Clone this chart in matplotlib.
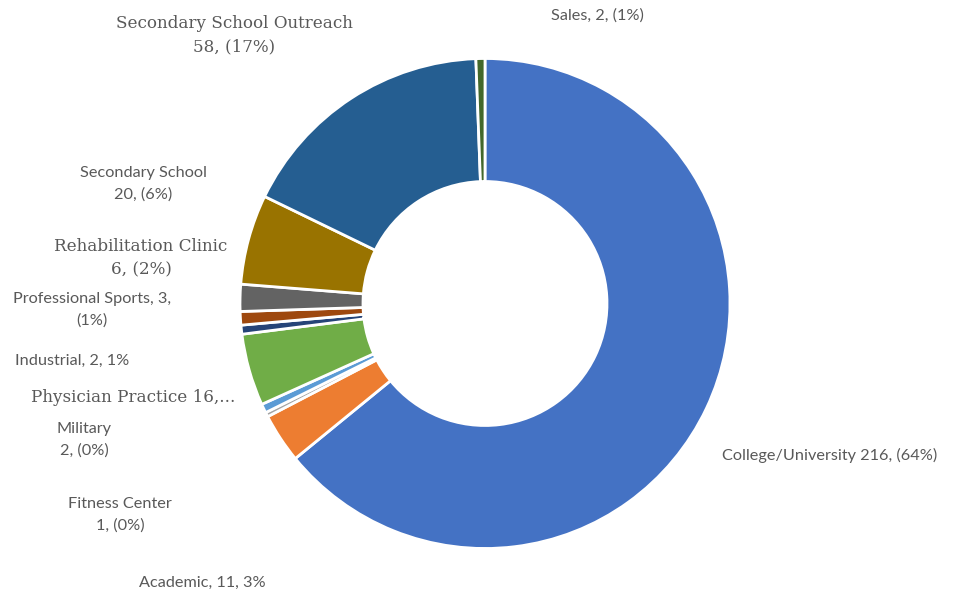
import matplotlib
matplotlib.use("Agg")
import matplotlib.pyplot as plt

# slices, clockwise from 12 o'clock
names = ["College/University", "Academic", "Fitness Center", "Military",
         "Physician Practice", "Industrial", "Professional Sports",
         "Rehabilitation Clinic", "Secondary School",
         "Secondary School Outreach", "Sales"]
counts = [216, 11, 1, 2, 16, 2, 3, 6, 20, 58, 2]
colors = ["#4472C4", "#ED7D31", "#A5A5A5", "#5B9BD5", "#70AD47", "#264478",
          "#9E480E", "#636363", "#997300", "#255E91", "#43682B"]

label_texts = [
    "College/University 216, (64%)",
    "Academic, 11, 3%",
    "Fitness Center\n1, (0%)",
    "Military\n2, (0%)",
    "Physician Practice 16,...",
    "Industrial, 2, 1%",
    "Professional Sports, 3,\n(1%)",
    "Rehabilitation Clinic\n6, (2%)",
    "Secondary School\n20, (6%)",
    "Secondary School Outreach\n58, (17%)",
    "Sales, 2, (1%)",
]
serif_labels = {"Physician Practice", "Rehabilitation Clinic", "Secondary School Outreach"}

# label anchor positions in pixels (x, y from top)
label_pos = [(830, 455), (202, 583), (120, 515), (84, 440), (133, 397),
             (72, 361), (92, 310), (141, 258), (143, 184), (234, 35), (597, 16)]

W, H = 956, 593
fig = plt.figure(figsize=(W / 100, H / 100), dpi=100)
ax = fig.add_axes([0, 0, 1, 1])

ax.pie(counts, colors=colors, startangle=90, counterclock=False,
       center=(485, H - 303.5), radius=245, frame=True,
       wedgeprops=dict(width=123, edgecolor="white", linewidth=2))
ax.set_xlim(0, W)
ax.set_ylim(0, H)
ax.set_aspect("equal")
ax.axis("off")

for name, txt, (px, py) in zip(names, label_texts, label_pos):
    if name in serif_labels:
        ax.text(px, H - py, txt, ha="center", va="center", fontsize=12.1,
                family="DejaVu Serif", color="#595959", linespacing=1.45)
    else:
        ax.text(px, H - py, txt, ha="center", va="center", fontsize=11.7,
                family="Lato", color="#595959", linespacing=1.6)

fig.savefig("out.png", dpi=100)
